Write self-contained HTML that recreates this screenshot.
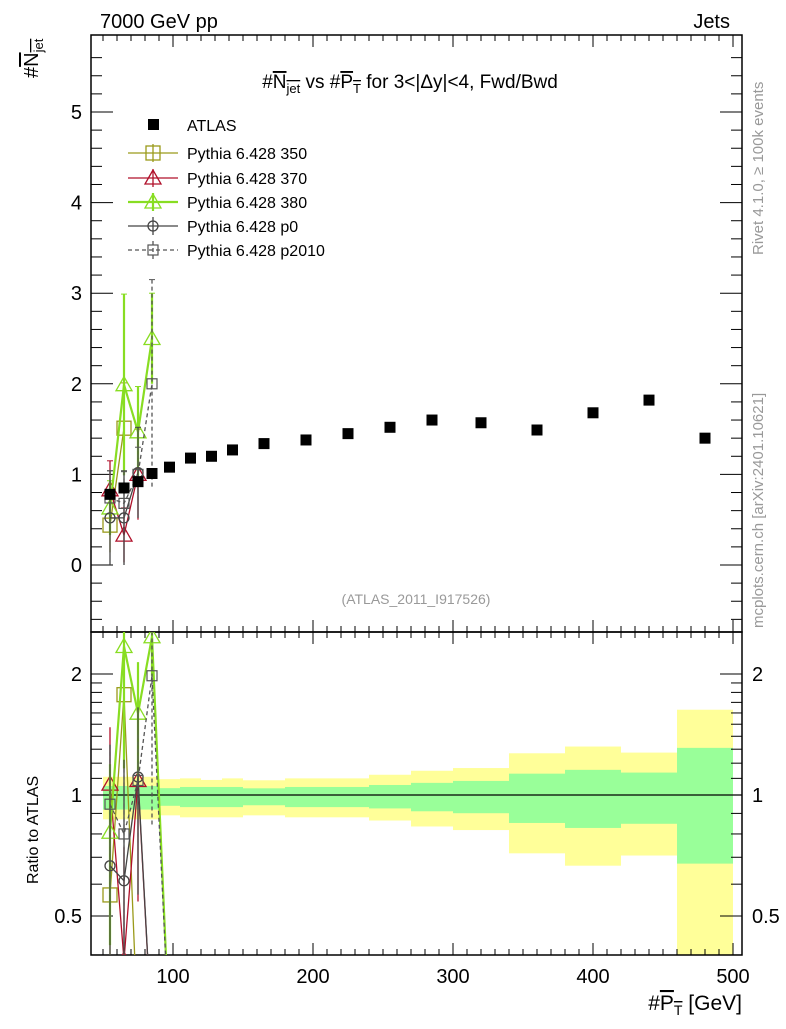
<!DOCTYPE html>
<html><head><meta charset="utf-8"><style>
body{margin:0;background:#fff}
svg text{font-family:"Liberation Sans",sans-serif}
</style></head><body>
<svg id="c" width="786" height="1024" xmlns="http://www.w3.org/2000/svg"></svg>
<script>
const atlasX=[55,65,75,85,97.5,112.5,127.5,142.5,165,195,225,255,285,320,360,400,440,480];
const atlasY=[0.78,0.85,0.92,1.01,1.08,1.18,1.2,1.27,1.34,1.38,1.45,1.52,1.6,1.57,1.49,1.68,1.82,1.4];
const mcX=[55,65,75,85];
const p350=[0.44,1.51,0,0];
const p350Err=[0.3,0.5,0,0];
const p370=[0.83,0.33,1.0,0];
const p370Err=[0.32,0.3,0.5,0];
const p380=[0.63,1.99,1.47,2.5];
const p380Err=[0.3,1.0,0.5,0.5];
const pp0=[0.52,0.52,1.02,0];
const pp0Err=[0.52,0.52,0.5,0];
const p2010=[0.74,0.68,1.0,2.0];
const p2010Err=[0.3,0.35,0.3,1.15];
const binEdges=[50,90,105,120,135,150,180,240,270,300,340,380,420,460,500];
const yelUp=[1.11,1.095,1.10,1.09,1.10,1.088,1.10,1.123,1.149,1.167,1.27,1.32,1.275,1.63];
const yelDn=[0.87,0.89,0.88,0.88,0.88,0.89,0.88,0.864,0.835,0.818,0.716,0.667,0.707,0.3];
const grnUp=[1.053,1.04,1.047,1.047,1.047,1.039,1.047,1.059,1.072,1.084,1.13,1.155,1.137,1.31];
const grnDn=[0.92,0.94,0.933,0.933,0.933,0.943,0.933,0.926,0.911,0.901,0.852,0.828,0.848,0.675];
const xTicks=[100,200,300,400,500];
const yTicks=[0,1,2,3,4,5];
const rTicks=[0.5,1,2];

const NS="http://www.w3.org/2000/svg";
const svg=document.getElementById('c');
const L=91,R=742,T=35,MB=632,RB=955;
const X=v=>33+1.4*v;
const Y=v=>565-90.6*v;
const RY=v=>795-121*Math.log2(v);
function el(t,a,p){const e=document.createElementNS(NS,t);for(const k in a)e.setAttribute(k,a[k]);(p||svg).appendChild(e);return e;}
function txt(s,x,y,a,p){const e=el('text',Object.assign({x:x,y:y,'font-size':20},a||{}),p);e.textContent=s;return e;}

const defs=el('defs',{});
const c1=el('clipPath',{id:'cm'},defs);el('rect',{x:L,y:T,width:R-L,height:MB-T},c1);
const c2=el('clipPath',{id:'cr'},defs);el('rect',{x:L,y:MB,width:R-L,height:RB-MB},c2);

const gb=el('g',{'clip-path':'url(#cr)'});


for(let i=0;i<binEdges.length-1;i++){
  const x0=X(binEdges[i]),x1=X(binEdges[i+1]);
  const y=el('rect',{x:x0,y:RY(yelUp[i]),width:x1-x0,height:Math.min(RY(yelDn[i]),RB)-RY(yelUp[i]),fill:'#ffff99'},gb);
  
  
  const g=el('rect',{x:x0,y:RY(grnUp[i]),width:x1-x0,height:RY(grnDn[i])-RY(grnUp[i]),fill:'#99ff99'},gb);
  
  
}
el('line',{x1:L,x2:R,y1:RY(1),y2:RY(1),stroke:'#000','stroke-width':1.3});

el('rect',{x:L,y:T,width:R-L,height:MB-T,fill:'none',stroke:'#000','stroke-width':1.5,});
el('rect',{x:L,y:MB,width:R-L,height:RB-MB,fill:'none',stroke:'#000','stroke-width':1.5,});

for(let v=50;v<=500;v+=10){
  const x=X(v);if(x<L||x>R)continue;
  const big=v%100===0, len=big?12:6;
  [T,MB].forEach(b=>el('line',{x1:x,x2:x,y1:b,y2:b+len,stroke:'#000'}));
  [MB,RB].forEach(b=>el('line',{x1:x,x2:x,y1:b,y2:b-len,stroke:'#000'}));
}
xTicks.forEach(v=>{const t=txt(v,X(v),983,{'text-anchor':'middle'});});
for(let v=-0.6;v<=5.8;v+=0.2){
  const vv=Math.round(v*10)/10;const y=Y(vv);
  const big=Math.abs(vv-Math.round(vv))<1e-6, len=big?22:11;
  el('line',{x1:L,x2:L+len,y1:y,y2:y,stroke:'#000'});
  el('line',{x1:R,x2:R-len,y1:y,y2:y,stroke:'#000'});
}
yTicks.forEach(v=>{const t=txt(v,82,Y(v)+7,{'text-anchor':'end'});});
[0.4,0.5,0.6,0.7,0.8,0.9,1,1.1,1.2,1.3,1.4,1.5,1.6,1.7,1.8,1.9,2].forEach(v=>{
  const y=RY(v);if(y>RB||y<MB)return;
  const big=(v===0.5||v===1||v===2),len=big?22:11;
  el('line',{x1:L,x2:L+len,y1:y,y2:y,stroke:'#000'});
  el('line',{x1:R,x2:R-len,y1:y,y2:y,stroke:'#000'});
});
rTicks.forEach(v=>{
  const a=txt(v,82,RY(v)+7,{'text-anchor':'end'});
  const b=txt(v,752,RY(v)+7);
});

function marker(g,type,x,y,col){
  if(type==='sq')el('rect',{x:x-7,y:y-7,width:14,height:14,fill:'none',stroke:col,'stroke-width':1.3},g);
  else if(type==='tri')el('polygon',{points:`${x},${y-8} ${x-8},${y+6} ${x+8},${y+6}`,fill:'none',stroke:col,'stroke-width':1.3},g);
  else if(type==='circ')el('circle',{cx:x,cy:y,r:5,fill:'none',stroke:col,'stroke-width':1.3},g);
  else if(type==='ssq')el('rect',{x:x-5,y:y-5,width:10,height:10,fill:'none',stroke:col,'stroke-width':1.2},g);
}
const series=[
 {n:'pythia-350',v:p350,e:p350Err,c:'#9a9a1a',m:'sq',d:'',w:1.3},
 {n:'pythia-370',v:p370,e:p370Err,c:'#b0102a',m:'tri',d:'',w:1.3},
 {n:'pythia-380',v:p380,e:p380Err,c:'#88dd22',m:'tri',d:'',w:2.2},
 {n:'pythia-p0',v:pp0,e:pp0Err,c:'#444',m:'circ',d:'',w:1.3},
 {n:'pythia-p2010',v:p2010,e:p2010Err,c:'#555',m:'ssq',d:'4,3',w:1.3}
];
series.forEach(s=>{
  const g=el('g',{'clip-path':'url(#cm)'});
  
  
  // line segments through consecutive nonzero points only
  let seg=[];
  const flush=()=>{if(seg.length>1)el('polyline',{points:seg.join(' '),fill:'none',stroke:s.c,'stroke-width':s.w,'stroke-dasharray':s.d},g);seg=[];};
  mcX.forEach((x,i)=>{if(s.v[i]>0)seg.push(X(x)+','+Y(s.v[i]));else flush();});
  flush();
  mcX.forEach((x,i)=>{
    if(s.v[i]>0){
      el('line',{x1:X(x),x2:X(x),y1:Y(s.v[i]+s.e[i]),y2:Y(Math.max(0,s.v[i]-s.e[i])),stroke:s.c,'stroke-width':s.w,'stroke-dasharray':s.d},g);
      el('line',{x1:X(x)-3,x2:X(x)+3,y1:Y(s.v[i]+s.e[i]),y2:Y(s.v[i]+s.e[i]),stroke:s.c},g);
      marker(g,s.m,X(x),Y(s.v[i]),s.c);
    }
  });
  const gr=el('g',{'clip-path':'url(#cr)'});
  
  
  const rp=mcX.map((x,i)=>X(x)+','+RY(Math.max(0.25,s.v[i]/atlasY[i])));
  if(s.v[s.v.length-1]>0)rp.push(X(atlasX[mcX.length])+','+RY(0.25));
  el('polyline',{points:rp.join(' '),fill:'none',stroke:s.c,'stroke-width':s.w,'stroke-dasharray':s.d},gr);
  mcX.forEach((x,i)=>{
    if(s.v[i]>0){
      const up=(s.v[i]+s.e[i])/atlasY[i],dn=Math.max(0.25,(s.v[i]-s.e[i])/atlasY[i]);
      el('line',{x1:X(x),x2:X(x),y1:RY(up),y2:RY(dn),stroke:s.c,'stroke-width':s.w,'stroke-dasharray':s.d},gr);
      marker(gr,s.m,X(x),RY(s.v[i]/atlasY[i]),s.c);
    }
  });
});
const ga=el('g',{});


atlasX.forEach((x,i)=>{
  const r=el('rect',{x:X(x)-5.5,y:Y(atlasY[i])-5.5,width:11,height:11,fill:'#000'},ga);
  
  
});

const lg=el('g',{});


el('rect',{x:148,y:119,width:11,height:11,fill:'#000'},lg);
txt('ATLAS',187,131,{'font-size':16},lg);
const ly=[153,178,202,226,250];
const labels=['Pythia 6.428 350','Pythia 6.428 370','Pythia 6.428 380','Pythia 6.428 p0','Pythia 6.428 p2010'];
series.forEach((s,i)=>{
  el('line',{x1:128,x2:178,y1:ly[i],y2:ly[i],stroke:s.c,'stroke-width':s.w,'stroke-dasharray':s.d},lg);
  el('line',{x1:153,x2:153,y1:ly[i]-9,y2:ly[i]+9,stroke:s.c,'stroke-width':s.w,'stroke-dasharray':s.d},lg);
  marker(lg,s.m,153,ly[i],s.c);
  txt(labels[i],187,ly[i]+6,{'font-size':16},lg);
});
</script>
<svg width="786" height="1024" style="position:absolute;left:0;top:0" xmlns="http://www.w3.org/2000/svg">
<text x="100" y="28" font-size="20">7000 GeV pp</text>
<text x="730" y="28" font-size="20" text-anchor="end">Jets</text>
<text x="410" y="88" font-size="19" text-anchor="middle">#<tspan text-decoration="overline">N<tspan font-size="13" dy="5">jet</tspan></tspan><tspan dy="-5"> vs #</tspan><tspan text-decoration="overline">P<tspan font-size="13" dy="5">T</tspan></tspan><tspan dy="-5"> for 3&lt;|Δy|&lt;4, Fwd/Bwd</tspan></text>
<text transform="translate(38,78) rotate(-90)" font-size="20">#<tspan text-decoration="overline">N<tspan font-size="13" dy="5">jet</tspan></tspan></text>
<text transform="translate(38,884) rotate(-90)" font-size="16">Ratio to ATLAS</text>
<text x="742" y="1010" font-size="21" text-anchor="end">#<tspan text-decoration="overline">P<tspan font-size="14" dy="5">T</tspan></tspan><tspan dy="-5"> [GeV]</tspan></text>
<text x="416" y="604" font-size="14" fill="#999" text-anchor="middle">(ATLAS_2011_I917526)</text>
<text transform="translate(763,255) rotate(-90)" font-size="15" fill="#999">Rivet 4.1.0, ≥ 100k events</text>
<text transform="translate(763,628) rotate(-90)" font-size="15" fill="#999">mcplots.cern.ch [arXiv:2401.10621]</text>
</svg>
</body></html>
